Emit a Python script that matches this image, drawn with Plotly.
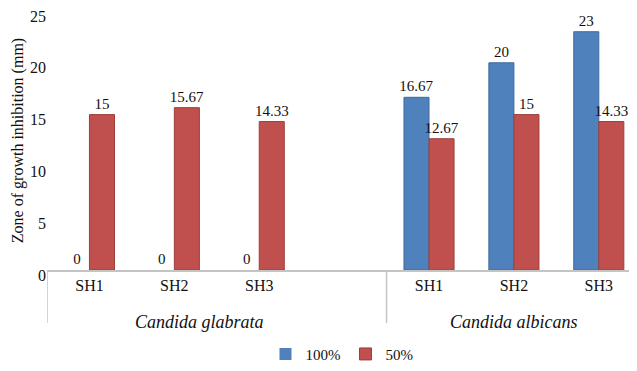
import plotly.graph_objects as go

# Data
sub_labels = ["SH1", "SH2", "SH3", "", "SH1", "SH2", "SH3"]
group_labels = ["Candida glabrata"] * 4 + ["Candida albicans"] * 3
series_100 = [0, 0, 0, None, 16.67, 20, 23]
series_50 = [15, 15.67, 14.33, None, 12.67, 15, 14.33]
y_ticks = [0, 5, 10, 15, 20, 25]

xpos = list(range(len(sub_labels)))
FONT = "Times New Roman"
TXT = "#111"


def fmt(v):
    return "" if v is None else f"{v:g}"


def lw(vals):
    return [0 if (v is None or v == 0) else 1 for v in vals]


fig = go.Figure()
fig.add_trace(go.Bar(
    x=xpos, y=series_100, name="100%",
    marker=dict(color="#4F81BD", line=dict(color="#3D6A9E", width=lw(series_100))),
    text=[fmt(v) for v in series_100], textposition="outside",
    textfont=dict(family=FONT, size=15, color=TXT),
    constraintext="none", cliponaxis=False,
))
fig.add_trace(go.Bar(
    x=xpos, y=series_50, name="50%",
    marker=dict(color="#C0504D", line=dict(color="#9E3E3B", width=lw(series_50))),
    text=[fmt(v) for v in series_50], textposition="outside",
    textfont=dict(family=FONT, size=15, color=TXT),
    constraintext="none", cliponaxis=False,
))

groups = []
for i, g in enumerate(group_labels):
    if not groups or groups[-1][0] != g:
        groups.append([g, i, i])
    else:
        groups[-1][2] = i

shapes = []
annotations = []
for gi, (g, s, e) in enumerate(groups):
    center = (s + e) / 2
    annotations.append(dict(
        x=center, y=-0.2, xref="x", yref="paper", text=f"<i>{g}</i>",
        showarrow=False, yanchor="middle", xanchor="center",
        xshift=-17 if gi == 0 else 0,
        font=dict(family=FONT, size=18, color=TXT),
    ))
    shapes.append(dict(type="line", xref="x", yref="paper",
                       x0=s - 0.5, x1=s - 0.5, y0=0, y1=-0.205,
                       line=dict(color="#c4c4c4", width=1.5)))

# page body has an 8px margin: compensate in figure size and margins
fig.update_layout(
    width=629, height=363,
    margin=dict(l=39, r=0, t=3, b=95),
    paper_bgcolor="white", plot_bgcolor="white",
    barmode="group", bargap=0.41, bargroupgap=0,
    font=dict(family=FONT, size=15, color=TXT),
    xaxis=dict(range=[-0.5, 6.45], tickmode="array", tickvals=xpos,
               ticktext=sub_labels, showline=True, linecolor="#c4c4c4",
               linewidth=1.5, showgrid=False, zeroline=False, ticks="",
               automargin=False,
               tickfont=dict(family=FONT, size=16, color=TXT)),
    yaxis=dict(range=[0, 25], tickmode="array", tickvals=y_ticks,
               showgrid=False, zeroline=False, showline=False, ticks="",
               automargin=False, ticklabeloverflow="allow", ticklabelshift=5,
               tickfont=dict(family=FONT, size=16, color=TXT),
               title=dict(text="Zone of growth inhibition (mm)",
                          font=dict(family=FONT, size=16, color=TXT),
                          standoff=2)),
    legend=dict(orientation="h", x=0.5, xanchor="center", y=-0.325,
                yanchor="middle", font=dict(family=FONT, size=15, color=TXT),
                itemwidth=30),
    showlegend=True,
    shapes=shapes, annotations=annotations,
)

fig.write_html("out.html")
